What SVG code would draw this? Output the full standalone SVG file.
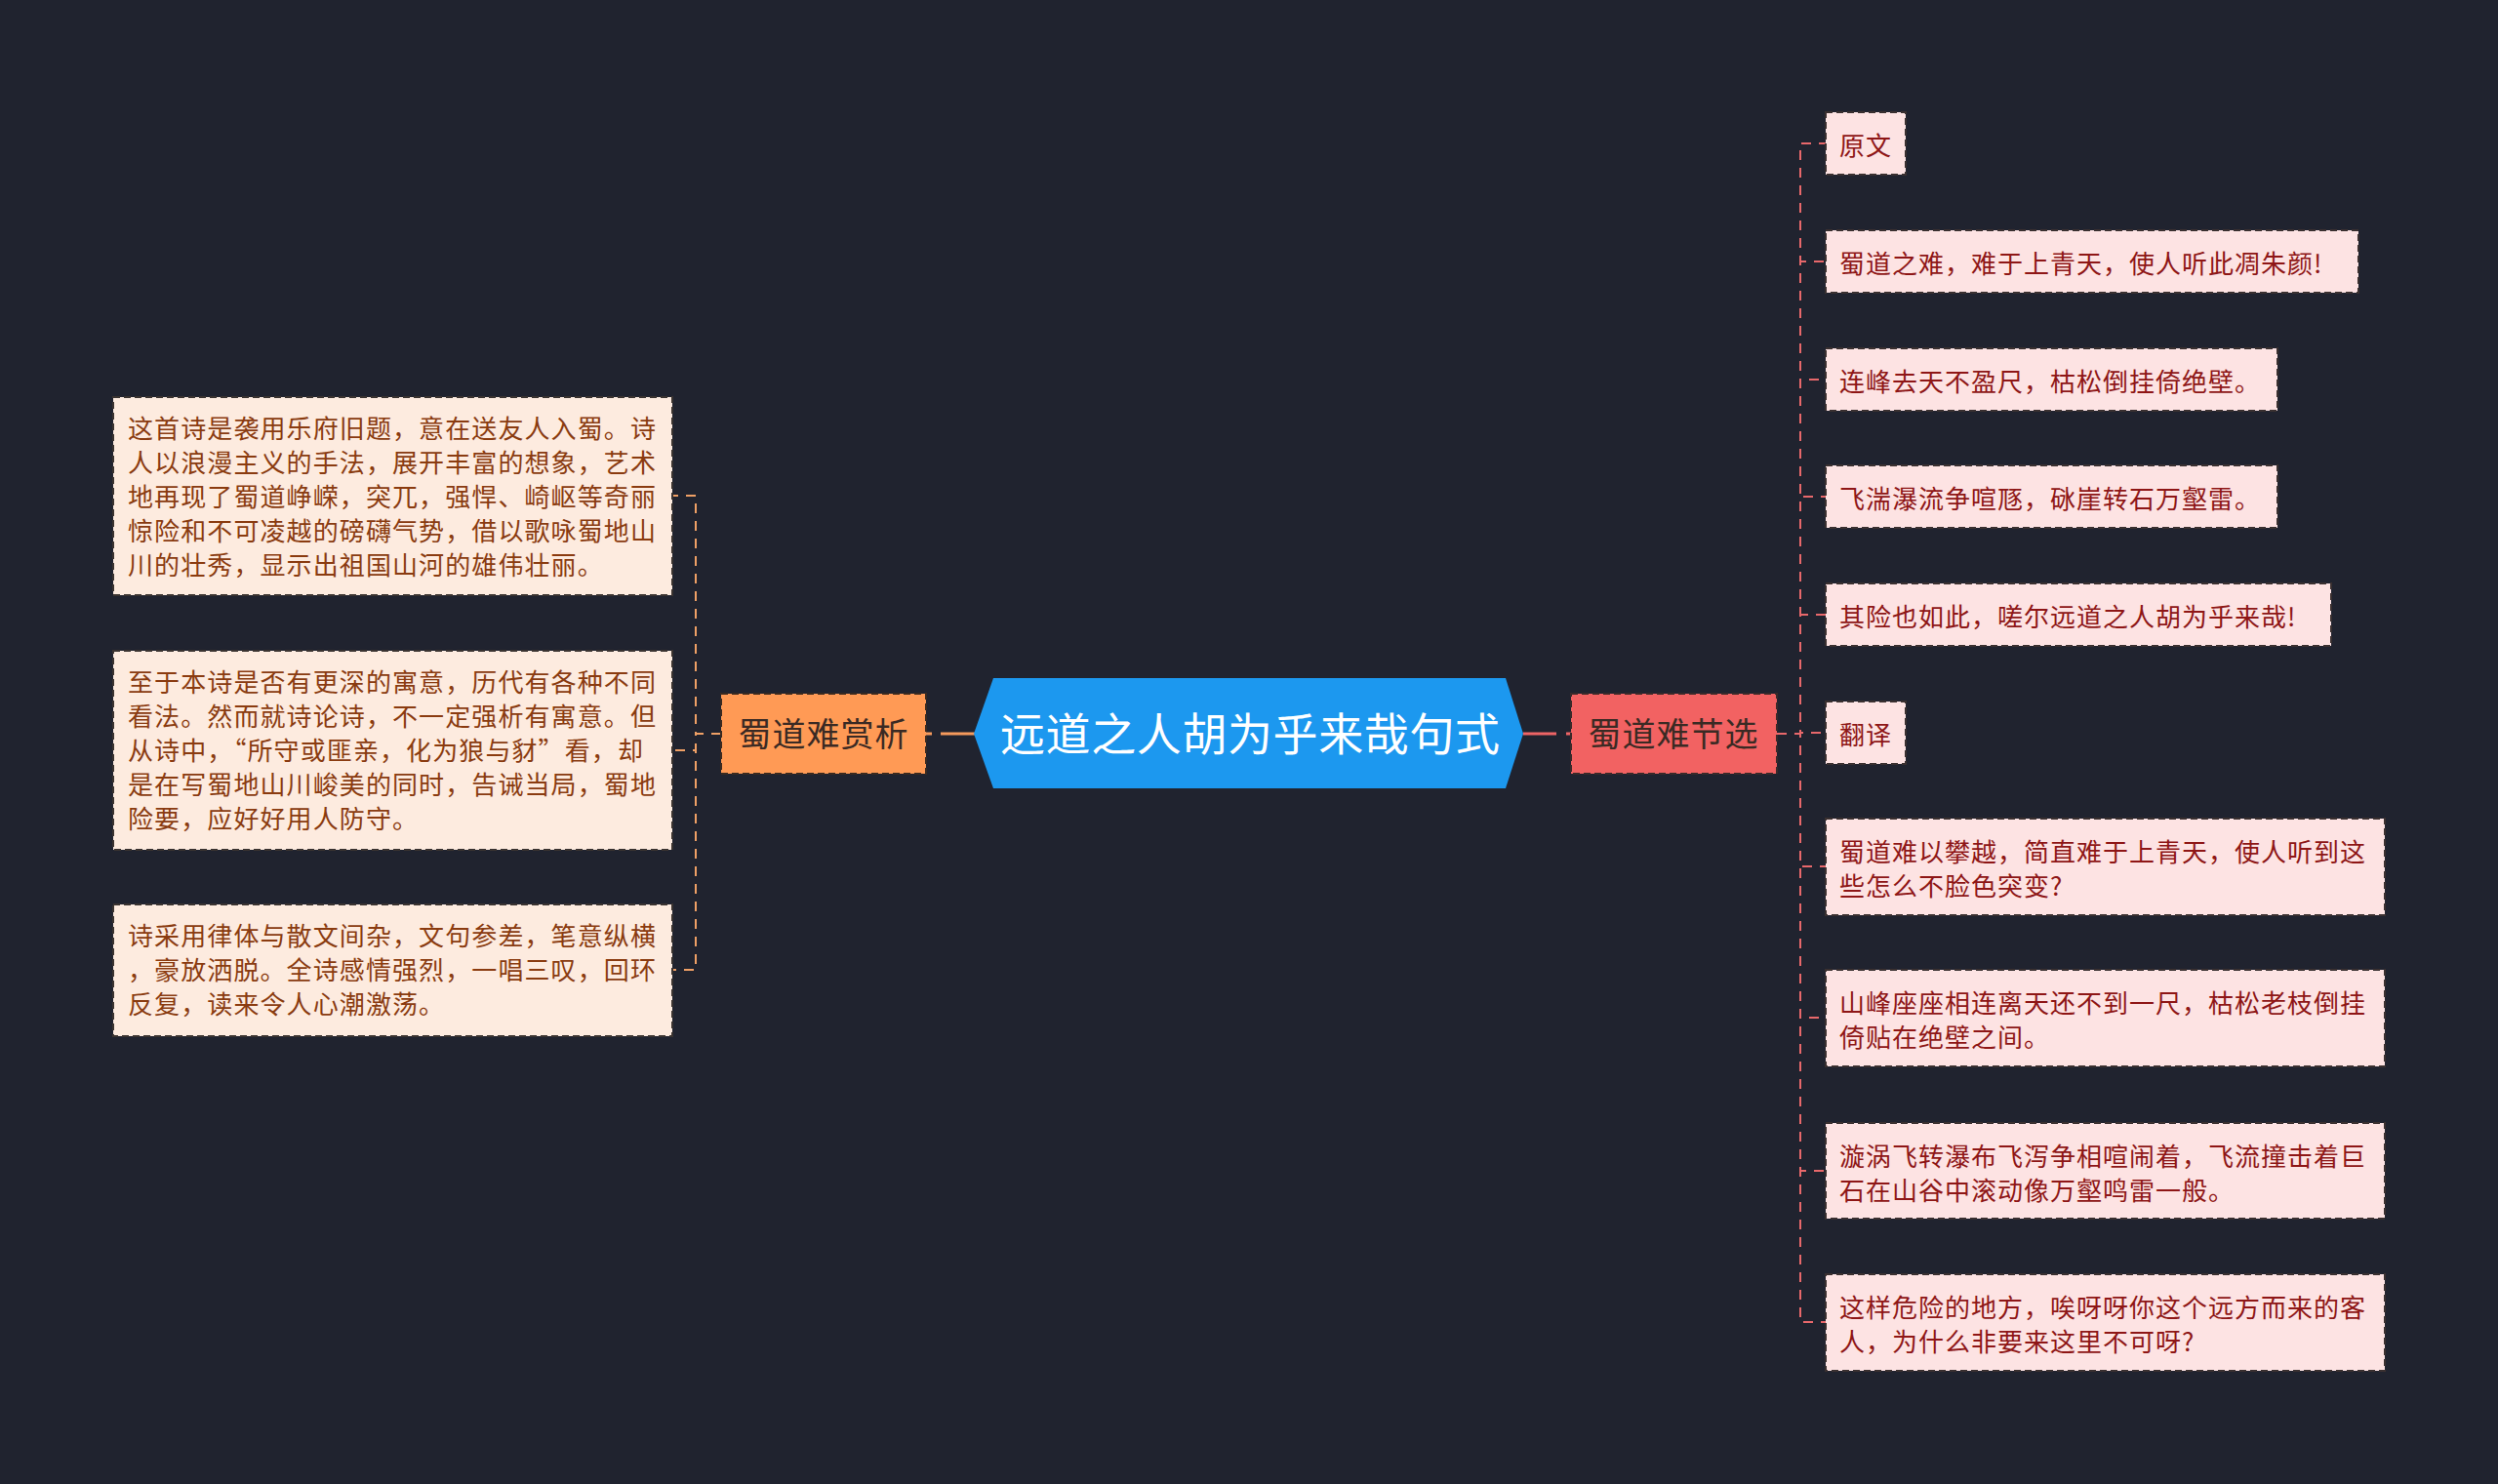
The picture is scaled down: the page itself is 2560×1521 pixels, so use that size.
<svg xmlns="http://www.w3.org/2000/svg" width="2560" height="1521" viewBox="0 0 2560 1521">
<style>
text{font-family:"Noto Sans CJK SC","Noto Sans",sans-serif;dominant-baseline:central}
.lbox{fill:#FDEBDF;stroke:#3a3330;stroke-width:2;stroke-dasharray:7 4}
.rbox{fill:#FDE3E3;stroke:#3a3030;stroke-width:2;stroke-dasharray:7 4}
.ltxt{fill:#8A3B10;font-size:26px;letter-spacing:1.1px}
.rtxt{fill:#8E1616;font-size:26px;letter-spacing:1px}
.lcon{fill:none;stroke:#EFA066;stroke-width:2;stroke-dasharray:10 8}
.rcon{fill:none;stroke:#E8686B;stroke-width:2;stroke-dasharray:10 8}
.btxt{fill:#3a2a24;font-size:34px;letter-spacing:1px;text-anchor:middle}
</style>
<rect width="2560" height="1521" fill="#20232F"/>
<g id="connectors">
<path class="lcon" d="M739,752 H713 V508 H689"/>
<path class="lcon" d="M739,752 H713 V769 H689"/>
<path class="lcon" d="M739,752 H713 V994 H689"/>
<path d="M999,752 H949" fill="none" stroke="#F59A5C" stroke-width="3" stroke-dasharray="35 9 6"/>
<path d="M1561,752 H1610" fill="none" stroke="#EE6466" stroke-width="3" stroke-dasharray="34 10 5"/>
<path class="rcon" d="M1821,752 H1845 V147 H1871"/>
<path class="rcon" d="M1821,752 H1845 V268 H1871"/>
<path class="rcon" d="M1821,752 H1845 V389 H1871"/>
<path class="rcon" d="M1821,752 H1845 V509 H1871"/>
<path class="rcon" d="M1821,752 H1845 V630 H1871"/>
<path class="rcon" d="M1821,752 H1845 V751 H1871"/>
<path class="rcon" d="M1821,752 H1845 V888 H1871"/>
<path class="rcon" d="M1821,752 H1845 V1043 H1871"/>
<path class="rcon" d="M1821,752 H1845 V1200 H1871"/>
<path class="rcon" d="M1821,752 H1845 V1355 H1871"/>
</g>
<g id="center">
<polygon points="998,752 1018,695 1543,695 1561,752 1543,808 1018,808" fill="#1C98EF"/>
<text x="1025" y="749" fill="#FFFFFF" font-size="46" textLength="512" lengthAdjust="spacing">远道之人胡为乎来哉句式</text>
</g>
<g id="branch-left">
<rect x="739" y="711" width="210" height="82" fill="#FF9A55" stroke="#3a2a20" stroke-width="2" stroke-dasharray="7 4"/>
<text class="btxt" x="844" y="750">蜀道难赏析</text>
</g>
<g id="branch-right">
<rect x="1610" y="711" width="211" height="82" fill="#F26262" stroke="#3a2a2a" stroke-width="2" stroke-dasharray="7 4"/>
<text class="btxt" x="1715" y="750">蜀道难节选</text>
</g>
<g id="left1">
<rect class="lbox" x="116" y="407" width="573" height="203"/>
<text class="ltxt"><tspan x="131" y="437">这首诗是袭用乐府旧题，意在送友人入蜀。诗</tspan><tspan x="131" y="472">人以浪漫主义的手法，展开丰富的想象，艺术</tspan><tspan x="131" y="507">地再现了蜀道峥嵘，突兀，强悍、崎岖等奇丽</tspan><tspan x="131" y="542">惊险和不可凌越的磅礴气势，借以歌咏蜀地山</tspan><tspan x="131" y="577">川的壮秀，显示出祖国山河的雄伟壮丽。</tspan></text>
</g>
<g id="left2">
<rect class="lbox" x="116" y="667" width="573" height="204"/>
<text class="ltxt"><tspan x="131" y="697">至于本诗是否有更深的寓意，历代有各种不同</tspan><tspan x="131" y="732">看法。然而就诗论诗，不一定强析有寓意。但</tspan><tspan x="131" y="767">从诗中，“所守或匪亲，化为狼与豺”看，却</tspan><tspan x="131" y="802">是在写蜀地山川峻美的同时，告诫当局，蜀地</tspan><tspan x="131" y="837">险要，应好好用人防守。</tspan></text>
</g>
<g id="left3">
<rect class="lbox" x="116" y="927" width="573" height="135"/>
<text class="ltxt"><tspan x="131" y="957">诗采用律体与散文间杂，文句参差，笔意纵横</tspan><tspan x="131" y="992">，豪放洒脱。全诗感情强烈，一唱三叹，回环</tspan><tspan x="131" y="1027">反复，读来令人心潮激荡。</tspan></text>
</g>
<g id="r1">
<rect class="rbox" x="1871" y="115" width="82" height="64"/>
<text class="rtxt" x="1885" y="147">原文</text>
</g>
<g id="r2">
<rect class="rbox" x="1871" y="236" width="546" height="64"/>
<text class="rtxt" x="1885" y="268">蜀道之难，难于上青天，使人听此凋朱颜!</text>
</g>
<g id="r3">
<rect class="rbox" x="1871" y="357" width="463" height="64"/>
<text class="rtxt" x="1885" y="389">连峰去天不盈尺，枯松倒挂倚绝壁。</text>
</g>
<g id="r4">
<rect class="rbox" x="1871" y="477" width="463" height="64"/>
<text class="rtxt" x="1885" y="509">飞湍瀑流争喧豗，砯崖转石万壑雷。</text>
</g>
<g id="r5">
<rect class="rbox" x="1871" y="598" width="518" height="64"/>
<text class="rtxt" x="1885" y="630">其险也如此，嗟尔远道之人胡为乎来哉!</text>
</g>
<g id="r6">
<rect class="rbox" x="1871" y="719" width="82" height="64"/>
<text class="rtxt" x="1885" y="751">翻译</text>
</g>
<g id="r7">
<rect class="rbox" x="1871" y="839" width="573" height="99"/>
<text class="rtxt"><tspan x="1885" y="871">蜀道难以攀越，简直难于上青天，使人听到这</tspan><tspan x="1885" y="906">些怎么不脸色突变?</tspan></text>
</g>
<g id="r8">
<rect class="rbox" x="1871" y="994" width="573" height="99"/>
<text class="rtxt"><tspan x="1885" y="1026">山峰座座相连离天还不到一尺，枯松老枝倒挂</tspan><tspan x="1885" y="1061">倚贴在绝壁之间。</tspan></text>
</g>
<g id="r9">
<rect class="rbox" x="1871" y="1151" width="573" height="98"/>
<text class="rtxt"><tspan x="1885" y="1183">漩涡飞转瀑布飞泻争相喧闹着，飞流撞击着巨</tspan><tspan x="1885" y="1218">石在山谷中滚动像万壑鸣雷一般。</tspan></text>
</g>
<g id="r10">
<rect class="rbox" x="1871" y="1306" width="573" height="99"/>
<text class="rtxt"><tspan x="1885" y="1338">这样危险的地方，唉呀呀你这个远方而来的客</tspan><tspan x="1885" y="1373">人，为什么非要来这里不可呀?</tspan></text>
</g>
</svg>
